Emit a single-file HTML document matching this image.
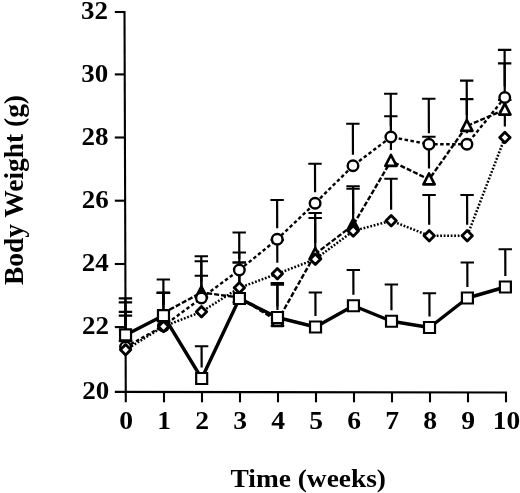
<!DOCTYPE html>
<html><head><meta charset="utf-8"><title>Body Weight</title>
<style>html,body{margin:0;padding:0;background:#fff}svg{display:block}</style></head>
<body>
<svg width="520" height="493" viewBox="0 0 520 493">
<rect width="520" height="493" fill="#fff"/>
<g stroke="#000" fill="none" stroke-linecap="butt">
<path d="M124.5 10.95L125.8 402.2" stroke-width="2.1"/>
<path d="M114.8 391.9L507.05 392.5" stroke-width="2.1"/>
<path d="M114.8 12.00H124.50" stroke-width="2.1"/>
<path d="M114.8 74.40H124.71" stroke-width="2.1"/>
<path d="M114.8 137.50H124.92" stroke-width="2.1"/>
<path d="M114.8 200.70H125.13" stroke-width="2.1"/>
<path d="M114.8 264.00H125.34" stroke-width="2.1"/>
<path d="M114.8 327.10H125.55" stroke-width="2.1"/>
<path d="M164.00 391.96V402.3" stroke-width="2.1"/>
<path d="M202.00 392.02V402.3" stroke-width="2.1"/>
<path d="M240.00 392.08V402.3" stroke-width="2.1"/>
<path d="M278.00 392.14V402.3" stroke-width="2.1"/>
<path d="M316.00 392.20V402.3" stroke-width="2.1"/>
<path d="M354.00 392.26V402.3" stroke-width="2.1"/>
<path d="M392.00 392.32V402.3" stroke-width="2.1"/>
<path d="M430.00 392.38V402.3" stroke-width="2.1"/>
<path d="M468.00 392.44V402.3" stroke-width="2.1"/>
<path d="M506.00 392.50V402.3" stroke-width="2.1"/>
<g transform="matrix(1 0 0.0033 1 -1.056 0)">
<path d="M125.50 325.00V302.30M118.80 302.30H132.20" stroke-width="2.2"/>
<path d="M163.50 305.00V292.90M156.80 292.90H170.20" stroke-width="2.2"/>
<path d="M201.50 281.50V261.25M194.80 261.25H208.20" stroke-width="2.2"/>
<path d="M239.50 286.50V252.50M232.80 252.50H246.20" stroke-width="2.2"/>
<path d="M277.50 310.00V284.60M270.80 284.60H284.20" stroke-width="2.2"/>
<path d="M315.50 243.00V213.00M308.80 213.00H322.20" stroke-width="2.2"/>
<path d="M353.50 214.00V186.25M346.80 186.25H360.20" stroke-width="2.2"/>
<path d="M391.50 150.00V116.25M384.80 116.25H398.20" stroke-width="2.2"/>
<path d="M429.50 168.50V136.75M422.80 136.75H436.20" stroke-width="2.2"/>
<path d="M467.50 115.00V80.60M460.80 80.60H474.20" stroke-width="2.2"/>
<path d="M505.50 98.70V63.30M498.80 63.30H512.20" stroke-width="2.2"/>
<path d="M125.50 336.00V298.30M118.80 298.30H132.20" stroke-width="2.2"/>
<path d="M163.50 315.00V279.50M156.80 279.50H170.20" stroke-width="2.2"/>
<path d="M201.50 287.00V256.25M194.80 256.25H208.20" stroke-width="2.2"/>
<path d="M239.50 259.00V232.50M232.80 232.50H246.20" stroke-width="2.2"/>
<path d="M277.50 228.25V200.00M270.80 200.00H284.20" stroke-width="2.2"/>
<path d="M315.50 192.25V163.75M308.80 163.75H322.20" stroke-width="2.2"/>
<path d="M353.50 154.75V123.75M346.80 123.75H360.20" stroke-width="2.2"/>
<path d="M391.50 126.00V93.75M384.80 93.75H398.20" stroke-width="2.2"/>
<path d="M429.50 133.25V98.75M422.80 98.75H436.20" stroke-width="2.2"/>
<path d="M467.50 133.25V99.20M460.80 99.20H474.20" stroke-width="2.2"/>
<path d="M505.50 86.50V49.90M498.80 49.90H512.20" stroke-width="2.2"/>
<path d="M125.50 338.80V311.90M118.80 311.90H132.20" stroke-width="2.2"/>
<path d="M163.50 315.50V292.90M156.80 292.90H170.20" stroke-width="2.2"/>
<path d="M201.50 300.80V275.75M194.80 275.75H208.20" stroke-width="2.2"/>
<path d="M239.50 276.80V262.50M232.80 262.50H246.20" stroke-width="2.2"/>
<path d="M277.50 262.75V240.00M270.80 240.00H284.20" stroke-width="2.2"/>
<path d="M315.50 248.25V218.00M308.80 218.00H322.20" stroke-width="2.2"/>
<path d="M353.50 220.00V188.75M346.80 188.75H360.20" stroke-width="2.2"/>
<path d="M391.50 209.75V178.75M384.80 178.75H398.20" stroke-width="2.2"/>
<path d="M429.50 224.75V195.00M422.80 195.00H436.20" stroke-width="2.2"/>
<path d="M467.50 224.75V195.00M460.80 195.00H474.20" stroke-width="2.2"/>
<path d="M505.50 126.50V100.00M498.80 100.00H512.20" stroke-width="2.2"/>
<path d="M125.50 323.90V315.60M118.80 315.60H132.20" stroke-width="2.2"/>
<path d="M163.50 304.60V292.90M156.80 292.90H170.20" stroke-width="2.2"/>
<path d="M201.50 367.50V346.25M194.80 346.25H208.20" stroke-width="2.2"/>
<path d="M239.50 287.50V262.50M232.80 262.50H246.20" stroke-width="2.2"/>
<path d="M277.50 306.50V283.20M270.80 283.20H284.20" stroke-width="2.2"/>
<path d="M315.50 316.00V292.50M308.80 292.50H322.20" stroke-width="2.2"/>
<path d="M353.50 294.75V270.00M346.80 270.00H360.20" stroke-width="2.2"/>
<path d="M391.50 310.25V284.50M384.80 284.50H398.20" stroke-width="2.2"/>
<path d="M429.50 316.50V293.25M422.80 293.25H436.20" stroke-width="2.2"/>
<path d="M467.50 287.00V262.50M460.80 262.50H474.20" stroke-width="2.2"/>
<path d="M505.50 276.00V249.25M498.80 249.25H512.20" stroke-width="2.2"/>
<polyline points="163.50,313.00 201.50,292.50 239.50,297.50 277.50,321.00 315.50,254.00 353.50,225.00 391.50,161.00 429.50,179.50 467.50,126.00 505.50,109.70" stroke-width="2.4" stroke-linejoin="round" stroke-dasharray="5 2"/>
<polyline points="125.50,347.00 163.50,326.00 201.50,298.00 239.50,270.00 277.50,239.25 315.50,203.25 353.50,165.75 391.50,137.00 429.50,144.25 467.50,144.25 505.50,97.50" stroke-width="2.4" stroke-linejoin="round" stroke-dasharray="3.5 2.5"/>
<polyline points="125.50,349.80 163.50,326.50 201.50,311.80 239.50,287.80 277.50,273.75 315.50,259.25 353.50,231.00 391.50,220.75 429.50,235.75 467.50,235.75 505.50,137.50" stroke-width="2.5" stroke-linejoin="round" stroke-dasharray="1.8 1.7"/>
<polyline points="125.50,334.90 163.50,315.60 201.50,378.50 239.50,298.50 277.50,317.50 315.50,327.00 353.50,305.75 391.50,321.25 429.50,327.50 467.50,298.00 505.50,287.00" stroke-width="3.4" stroke-linejoin="round"/>
<path d="M125.50 330.00L131.10 340.90H119.90Z" stroke-width="2.7" stroke-linejoin="round" fill="#fff"/>
<path d="M163.50 310.00L169.10 320.90H157.90Z" stroke-width="2.7" stroke-linejoin="round" fill="#fff"/>
<path d="M201.50 286.50L207.10 297.40H195.90Z" stroke-width="2.7" stroke-linejoin="round" fill="#000"/>
<path d="M239.50 291.50L245.10 302.40H233.90Z" stroke-width="2.7" stroke-linejoin="round" fill="#000"/>
<path d="M277.50 315.00L283.10 325.90H271.90Z" stroke-width="2.7" stroke-linejoin="round" fill="#fff"/>
<path d="M315.50 248.00L321.10 258.90H309.90Z" stroke-width="2.7" stroke-linejoin="round" fill="#fff"/>
<path d="M353.50 219.00L359.10 229.90H347.90Z" stroke-width="2.7" stroke-linejoin="round" fill="#000"/>
<path d="M391.50 155.00L397.10 165.90H385.90Z" stroke-width="2.7" stroke-linejoin="round" fill="#fff"/>
<path d="M429.50 173.50L435.10 184.40H423.90Z" stroke-width="2.7" stroke-linejoin="round" fill="#fff"/>
<path d="M467.50 120.00L473.10 130.90H461.90Z" stroke-width="2.7" stroke-linejoin="round" fill="#fff"/>
<path d="M505.50 103.70L511.10 114.60H499.90Z" stroke-width="2.7" stroke-linejoin="round" fill="#fff"/>
<circle cx="125.50" cy="347.00" r="5.3" stroke-width="2.4" fill="#fff"/>
<circle cx="163.50" cy="326.00" r="5.3" stroke-width="2.4" fill="#fff"/>
<circle cx="201.50" cy="298.00" r="5.3" stroke-width="2.4" fill="#fff"/>
<circle cx="239.50" cy="270.00" r="5.3" stroke-width="2.4" fill="#fff"/>
<circle cx="277.50" cy="239.25" r="5.3" stroke-width="2.4" fill="#fff"/>
<circle cx="315.50" cy="203.25" r="5.3" stroke-width="2.4" fill="#fff"/>
<circle cx="353.50" cy="165.75" r="5.3" stroke-width="2.4" fill="#fff"/>
<circle cx="391.50" cy="137.00" r="5.3" stroke-width="2.4" fill="#fff"/>
<circle cx="429.50" cy="144.25" r="5.3" stroke-width="2.4" fill="#fff"/>
<circle cx="467.50" cy="144.25" r="5.3" stroke-width="2.4" fill="#fff"/>
<circle cx="505.50" cy="97.50" r="5.3" stroke-width="2.4" fill="#fff"/>
<path d="M125.50 344.60L130.70 349.80L125.50 355.00L120.30 349.80Z" stroke-width="2.8" stroke-linejoin="round" fill="#fff"/>
<path d="M163.50 321.30L168.70 326.50L163.50 331.70L158.30 326.50Z" stroke-width="2.8" stroke-linejoin="round" fill="#fff"/>
<path d="M201.50 306.60L206.70 311.80L201.50 317.00L196.30 311.80Z" stroke-width="2.8" stroke-linejoin="round" fill="#fff"/>
<path d="M239.50 282.60L244.70 287.80L239.50 293.00L234.30 287.80Z" stroke-width="2.8" stroke-linejoin="round" fill="#fff"/>
<path d="M277.50 268.55L282.70 273.75L277.50 278.95L272.30 273.75Z" stroke-width="2.8" stroke-linejoin="round" fill="#fff"/>
<path d="M315.50 254.05L320.70 259.25L315.50 264.45L310.30 259.25Z" stroke-width="2.8" stroke-linejoin="round" fill="#fff"/>
<path d="M353.50 225.80L358.70 231.00L353.50 236.20L348.30 231.00Z" stroke-width="2.8" stroke-linejoin="round" fill="#fff"/>
<path d="M391.50 215.55L396.70 220.75L391.50 225.95L386.30 220.75Z" stroke-width="2.8" stroke-linejoin="round" fill="#fff"/>
<path d="M429.50 230.55L434.70 235.75L429.50 240.95L424.30 235.75Z" stroke-width="2.8" stroke-linejoin="round" fill="#fff"/>
<path d="M467.50 230.55L472.70 235.75L467.50 240.95L462.30 235.75Z" stroke-width="2.8" stroke-linejoin="round" fill="#fff"/>
<path d="M505.50 132.30L510.70 137.50L505.50 142.70L500.30 137.50Z" stroke-width="2.8" stroke-linejoin="round" fill="#fff"/>
<rect x="120.00" y="329.40" width="11" height="11" stroke-width="2.2" fill="#fff"/>
<rect x="158.00" y="310.10" width="11" height="11" stroke-width="2.2" fill="#fff"/>
<rect x="196.00" y="373.00" width="11" height="11" stroke-width="2.2" fill="#fff"/>
<rect x="234.00" y="293.00" width="11" height="11" stroke-width="2.2" fill="#fff"/>
<rect x="272.00" y="312.00" width="11" height="11" stroke-width="2.2" fill="#fff"/>
<rect x="310.00" y="321.50" width="11" height="11" stroke-width="2.2" fill="#fff"/>
<rect x="348.00" y="300.25" width="11" height="11" stroke-width="2.2" fill="#fff"/>
<rect x="386.00" y="315.75" width="11" height="11" stroke-width="2.2" fill="#fff"/>
<rect x="424.00" y="322.00" width="11" height="11" stroke-width="2.2" fill="#fff"/>
<rect x="462.00" y="292.50" width="11" height="11" stroke-width="2.2" fill="#fff"/>
<rect x="500.00" y="281.50" width="11" height="11" stroke-width="2.2" fill="#fff"/>
</g>
</g>
<g font-family="'Liberation Serif', serif" font-weight="bold" font-size="26" fill="#000">
<text x="108.00" y="19.10" font-size="26" text-anchor="end" textLength="27" lengthAdjust="spacingAndGlyphs">32</text>
<text x="108.21" y="81.50" font-size="26" text-anchor="end" textLength="27" lengthAdjust="spacingAndGlyphs">30</text>
<text x="108.43" y="144.60" font-size="26" text-anchor="end" textLength="27" lengthAdjust="spacingAndGlyphs">28</text>
<text x="108.65" y="207.80" font-size="26" text-anchor="end" textLength="27" lengthAdjust="spacingAndGlyphs">26</text>
<text x="108.86" y="271.10" font-size="26" text-anchor="end" textLength="27" lengthAdjust="spacingAndGlyphs">24</text>
<text x="109.08" y="334.20" font-size="26" text-anchor="end" textLength="27" lengthAdjust="spacingAndGlyphs">22</text>
<text x="109.30" y="399.10" font-size="26" text-anchor="end" textLength="27" lengthAdjust="spacingAndGlyphs">20</text>
<text x="119.20" y="429.2" textLength="13.8" lengthAdjust="spacingAndGlyphs">0</text>
<text x="157.20" y="429.2" textLength="13.8" lengthAdjust="spacingAndGlyphs">1</text>
<text x="195.20" y="429.2" textLength="13.8" lengthAdjust="spacingAndGlyphs">2</text>
<text x="233.20" y="429.2" textLength="13.8" lengthAdjust="spacingAndGlyphs">3</text>
<text x="271.20" y="429.2" textLength="13.8" lengthAdjust="spacingAndGlyphs">4</text>
<text x="309.20" y="429.2" textLength="13.8" lengthAdjust="spacingAndGlyphs">5</text>
<text x="347.20" y="429.2" textLength="13.8" lengthAdjust="spacingAndGlyphs">6</text>
<text x="385.20" y="429.2" textLength="13.8" lengthAdjust="spacingAndGlyphs">7</text>
<text x="423.20" y="429.2" textLength="13.8" lengthAdjust="spacingAndGlyphs">8</text>
<text x="461.20" y="429.2" textLength="13.8" lengthAdjust="spacingAndGlyphs">9</text>
<text x="492.80" y="429.2" textLength="27.4" lengthAdjust="spacingAndGlyphs">10</text>
<text x="230.5" y="487" font-size="26" textLength="155.5" lengthAdjust="spacingAndGlyphs">Time (weeks)</text>
<text transform="translate(22.6 285) rotate(-90)" font-size="27.5" textLength="190" lengthAdjust="spacingAndGlyphs">Body Weight (g)</text>
</g>
</svg>
</body></html>
